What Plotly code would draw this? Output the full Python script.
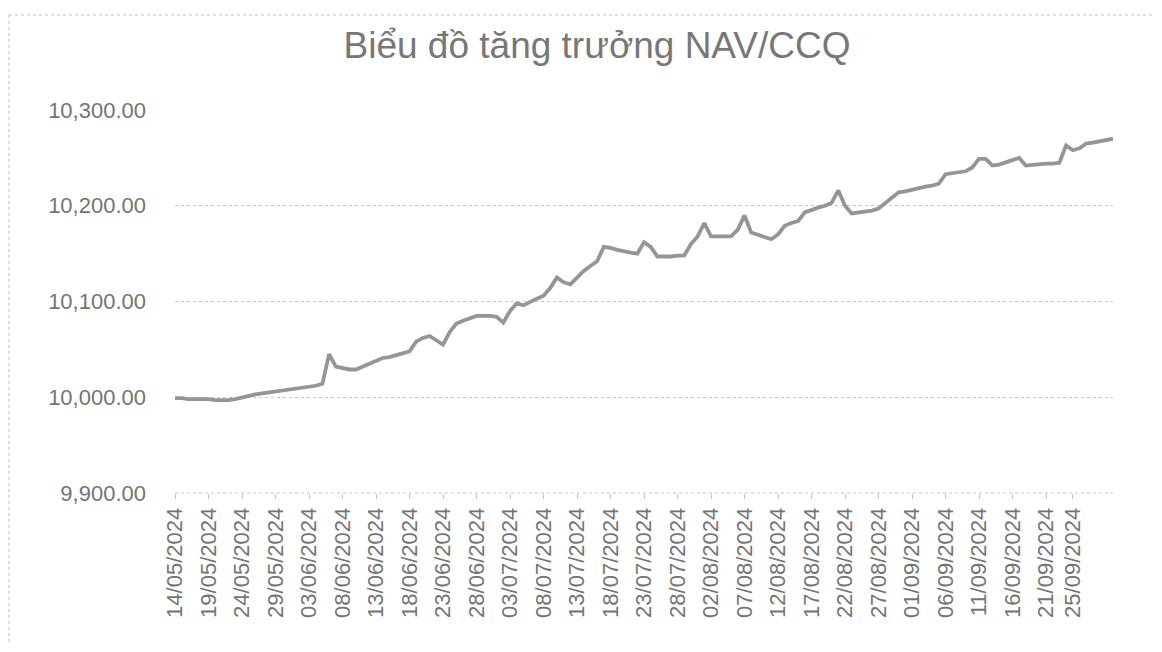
import pandas as pd
import plotly.graph_objects as go

# ---- data ----
start_date = "2024-05-14"
nav_values = [
    9999, 9999, 9998, 9998, 9998, 9998, 9997, 9997, 9997, 9998,
    10000, 10002, 10003, 10004, 10005, 10006, 10007, 10008, 10009, 10010,
    10011, 10012, 10014, 10045, 10032, 10030, 10029, 10029, 10032, 10036,
    10039, 10041, 10042, 10044, 10045, 10048, 10058, 10062, 10064, 10059,
    10055, 10068, 10077, 10080, 10083, 10085, 10085, 10085, 10084, 10078,
    10090, 10098, 10096, 10100, 10103, 10106, 10114, 10125, 10120, 10118,
    10125, 10132, 10137, 10142, 10157, 10156, 10154, 10152, 10151, 10150,
    10162, 10157, 10147, 10147, 10147, 10148, 10148, 10160, 10168, 10182,
    10168, 10168, 10168, 10168, 10175, 10190, 10172, 10170, 10168, 10165,
    10170, 10179, 10182, 10184, 10193, 10196, 10198, 10200, 10203, 10216,
    10200, 10192, 10193, 10194, 10195, 10197, 10203, 10208, 10214, 10215,
    10217, 10219, 10220, 10221, 10223, 10233, 10234, 10235, 10236, 10240,
    10249, 10249, 10242, 10243, 10245, 10247, 10250, 10242, 10243, 10243,
    10244, 10244, 10245, 10263, 10258, 10260, 10265, 10266, 10267, 10268,
    10270,
]
dates = pd.date_range(start_date, periods=len(nav_values), freq="D")

tick_labels = [
    "14/05/2024", "19/05/2024", "24/05/2024", "29/05/2024", "03/06/2024",
    "08/06/2024", "13/06/2024", "18/06/2024", "23/06/2024", "28/06/2024",
    "03/07/2024", "08/07/2024", "13/07/2024", "18/07/2024", "23/07/2024",
    "28/07/2024", "02/08/2024", "07/08/2024", "12/08/2024", "17/08/2024",
    "22/08/2024", "27/08/2024", "01/09/2024", "06/09/2024", "11/09/2024",
    "16/09/2024", "21/09/2024", "25/09/2024",
]
y_ticks = [9900, 10000, 10100, 10200, 10300]
title_text = "Biểu đồ tăng trưởng NAV/CCQ"

tick_vals = [pd.to_datetime(t, format="%d/%m/%Y") for t in tick_labels]

# page has an 8px body margin, so the figure is 16px smaller than the window
W, H = 1146, 636
ML, MR, MT, MB = 167, 41, 102, 151

fig = go.Figure()
fig.add_trace(go.Scatter(
    x=dates, y=nav_values, mode="lines",
    line=dict(color="#959595", width=3.8),
    hoverinfo="x+y", showlegend=False,
))

text_col = "#747474"
grid_col = "#c4c4c4"

fig.update_layout(
    width=W, height=H,
    margin=dict(l=ML, r=MR, t=MT, b=MB),
    paper_bgcolor="white", plot_bgcolor="white",
    title=dict(text=title_text, x=(597 - 8) / W, xanchor="center", y=1 - 37 / H, yanchor="middle",
               font=dict(family="Liberation Sans", size=37, color="#777777")),
    xaxis=dict(
        type="date",
        range=[dates[0], dates[-1]],
        tickmode="array", tickvals=tick_vals, ticktext=tick_labels,
        tickangle=-90,
        tickfont=dict(family="Liberation Sans", size=22, color=text_col),
        ticks="outside", ticklen=5, tickcolor=grid_col, tickwidth=1,
        showgrid=False, showline=False, zeroline=False,
    ),
    yaxis=dict(
        range=[9900, 10300],
        tickmode="array", tickvals=y_ticks,
        tickformat=",.2f",
        tickfont=dict(family="Liberation Sans", size=22, color=text_col),
        showgrid=True, gridcolor=grid_col, griddash="dot", gridwidth=1,
        showline=False, zeroline=False, ticks="", ticklabelstandoff=28,
    ),
)

# dotted x-axis baseline
fig.add_shape(type="line", xref="paper", yref="paper", x0=0, x1=1, y0=0, y1=0,
              line=dict(color=grid_col, width=1, dash="dot"), layer="below")

# dotted chart-area frame (top and left edges visible in the scan)
pw = W - ML - MR
ph = H - MT - MB
fig.add_shape(type="line", xref="paper", yref="paper",
              x0=(1 - ML) / pw, x1=(W - ML) / pw,
              y0=(H - MB - 7) / ph, y1=(H - MB - 7) / ph,
              line=dict(color="#bdbdbd", width=1, dash="dot"))
fig.add_shape(type="line", xref="paper", yref="paper",
              x0=(1 - ML) / pw, x1=(1 - ML) / pw,
              y0=(H - MB - 7) / ph, y1=(H - MB - H) / ph,
              line=dict(color="#bdbdbd", width=1, dash="dot"))

fig.write_html("out.html")
